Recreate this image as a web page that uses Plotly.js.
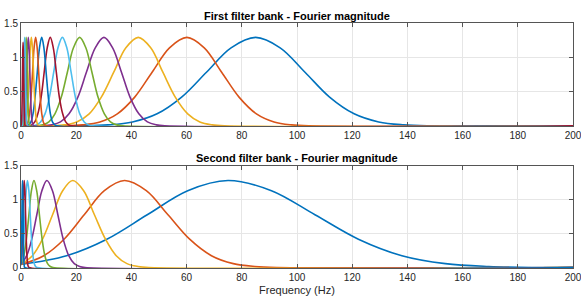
<!DOCTYPE html>
<html>
<head>
<meta charset="utf-8">
<script src="https://cdn.plot.ly/plotly-3.0.1.min.js"></script>
<style>html,body{margin:0;padding:0;background:#fff;}#chart{width:581px;height:302px;}</style>
</head>
<body>
<div id="chart"></div>
<script>
// ---- First filter bank: frequency samples (Hz) per filter ----
const top1X  = [0, 22.5,31.5,40.4,49.3,58.2,67.2,76.1,85,93.9,102.9,111.8,120.7,129.6,138.6,147.5, 200];
const top2X  = [0, 15.9,22.2,28.6,34.9,41.2,47.5,53.8,60.1,66.4,72.7,79.0,85.3,91.7,98.0,104.3, 200];
const top3X  = [0, 11.3,15.7,20.2,24.7,29.1,33.6,38.0,42.5,47.0,51.4,55.9,60.4,64.8,69.3,73.7, 200];
const top4X  = [0, 8.0,11.1,14.3,17.4,20.6,23.7,26.9,30.05,33.2,36.4,39.5,42.7,45.8,49.0,52.1, 200];
const top5X  = [0, 5.6,7.9,10.1,12.3,14.6,16.8,19.0,21.25,23.5,25.7,27.9,30.2,32.4,34.6,36.9, 200];
const top6X  = [0, 4.0,5.55,7.1,8.7,10.3,11.85,13.4,15.0,16.6,18.15,19.7,21.3,22.9,24.45,26.0, 200];
const top7X  = [0, 2.8,3.9,5.0,6.1,7.3,8.4,9.5,10.6,11.7,12.8,13.9,15.1,16.2,17.3,18.4, 200];
const top8X  = [0, 2.0,2.8,3.6,4.35,5.1,5.9,6.7,7.5,8.3,9.1,9.9,10.65,11.4,12.2,13.0, 200];
const top9X  = [0, 1.4,1.96,2.5,3.07,3.63,4.19,4.74,5.3,5.86,6.41,6.97,7.53,8.08,8.64,9.2, 200];
const top10X = [0, 0.99,1.39,1.78,2.17,2.57,2.96,3.36,3.75,4.14,4.54,4.93,5.33,5.72,6.11,6.51, 200];
const top11X = [0, 0.7,0.98,1.26,1.54,1.81,2.09,2.37,2.65,2.93,3.21,3.49,3.76,4.04,4.32,4.6, 200];
const top12X = [0, 0.5,0.7,0.89,1.09,1.29,1.49,1.68,1.88,2.08,2.28,2.47,2.67,2.87,3.07,3.26, 200];
const top13X = [0, 0.35,0.49,0.63,0.77,0.91,1.05,1.19,1.33,1.47,1.61,1.75,1.89,2.03,2.17,2.31, 200];
const top14X = [0, 0.09,0.2,0.31,0.42,0.53,0.64,0.75,0.86,0.97,1.08,1.19,1.3,1.41,1.52, 200];
// magnitudes at those samples
const topProfile    = [0, 0, 0.014,0.057,0.175,0.419,0.782,1.138,1.29,1.138,0.782,0.419,0.175,0.057,0.014,0, 0];
const topLowProfile = [0, 0.0135,0.054,0.165,0.396,0.74,1.077,1.22,1.077,0.74,0.396,0.165,0.054,0.0135,0, 0];

// ---- Second filter bank ----
const bot1X = [0, 16.5,31.1,45.75,60.4,75,90.75,106.5,122.25,138,153.75,169.5,185.25, 200];
const bot2X = [0, 8.25,15.6,22.9,30.2,37.5,45.4,53.25,61.1,69,76.9,84.75,92.6, 200];
const bot3X = [0, 4.13,7.8,11.44,15.1,18.75,22.7,26.6,30.6,34.5,38.4,42.4,46.3, 200];
const bot4X = [0, 2.06,3.9,5.73,7.57,9.4,11.4,13.35,15.3,17.3,19.3,21.25,23.2, 200];
const bot5X = [0, 1.03,1.95,2.87,3.78,4.7,5.69,6.67,7.66,8.64,9.63,10.6,11.6, 200];
const bot6X = [0, 0.51,0.97,1.43,1.89,2.35,2.85,3.34,3.84,4.33,4.83,5.32,5.82, 200];
const bot7X = [0, 0.25,0.48,0.71,0.94,1.17,1.42,1.66,1.91,2.15,2.4,2.65,2.89, 200];
const bot8X = [0, 0.11,0.22,0.33,0.44,0.55,0.66,0.77,0.88,0.99,1.1,1.21,1.32, 200];
const bottomProfile = [0.045, 0.173,0.416,0.776,1.13,1.28,1.13,0.776,0.416,0.173,0.056,0.014,0, 0];

const xTicks = [0,20,40,60,80,100,120,140,160,180,200];
const yTicks = [0,0.5,1,1.5];
const yTickText = ['0','0.5','1','1.5'];
const colors = ['#0072BD','#D95319','#EDB120','#7E2F8E','#77AC30','#4DBEEE','#A2142F'];

const topXs = [top1X,top2X,top3X,top4X,top5X,top6X,top7X,top8X,top9X,top10X,top11X,top12X,top13X,top14X];
const botXs = [bot1X,bot2X,bot3X,bot4X,bot5X,bot6X,bot7X,bot8X];

const traces = [];
topXs.forEach((x,i)=>traces.push({
  x:x, y:(i===topXs.length-1?topLowProfile:topProfile), xaxis:'x', yaxis:'y', type:'scatter', mode:'lines',
  line:{color:colors[i%7], width:1.6, shape:'spline', smoothing:1}, hoverinfo:'skip'
}));
botXs.forEach((x,i)=>traces.push({
  x:x, y:bottomProfile, xaxis:'x2', yaxis:'y2', type:'scatter', mode:'lines',
  line:{color:colors[i%7], width:1.6, shape:'spline', smoothing:1}, hoverinfo:'skip'
}));

const font = {family:'"Liberation Sans", Arial, Helvetica, sans-serif', size:10, color:'#262626'};
function xax(anchor){return {anchor:anchor, domain:[0,1], range:[0,200], tickvals:xTicks, ticktext:xTicks.map(String),
  ticks:'inside', ticklen:4, tickcolor:'#555', showline:true, linecolor:'#555', linewidth:1, mirror:'ticks',
  showgrid:true, gridcolor:'#e6e6e6', gridwidth:1, zeroline:false, tickfont:font, fixedrange:true,
  ticklabeloverflow:'allow'};}
function yax(anchor, dom){return {anchor:anchor, domain:dom, range:[-0.008,1.5], tickvals:yTicks, ticktext:yTickText,
  ticks:'inside', ticklen:4, tickcolor:'#555', showline:true, linecolor:'#555', linewidth:1, mirror:'ticks',
  showgrid:true, gridcolor:'#e6e6e6', gridwidth:1, zeroline:false, tickfont:font, fixedrange:true,
  ticklabeloverflow:'allow'};}

const x2 = xax('y2');
x2.title = {text:'Frequency (Hz)', font:{family:font.family, size:11, color:'#262626'}, standoff:4};

const layout = {
  width:581, height:302, margin:{l:21, r:8, t:23, b:34},
  paper_bgcolor:'#fff', plot_bgcolor:'#fff', showlegend:false,
  xaxis:xax('y'), yaxis:yax('x',[0.578,1]),
  xaxis2:x2, yaxis2:yax('x2',[0,0.418]),
  annotations:[
    {text:'<b>First filter bank - Fourier magnitude</b>', xref:'paper', yref:'paper', x:0.5, y:1.03, xanchor:'center', yanchor:'middle', showarrow:false, font:{family:font.family, size:11, color:'#000'}},
    {text:'<b>Second filter bank - Fourier magnitude</b>', xref:'paper', yref:'paper', x:0.5, y:0.448, xanchor:'center', yanchor:'middle', showarrow:false, font:{family:font.family, size:11, color:'#000'}}
  ]
};
Plotly.newPlot('chart', traces, layout, {displayModeBar:false, staticPlot:true});
</script>
</body>
</html>
